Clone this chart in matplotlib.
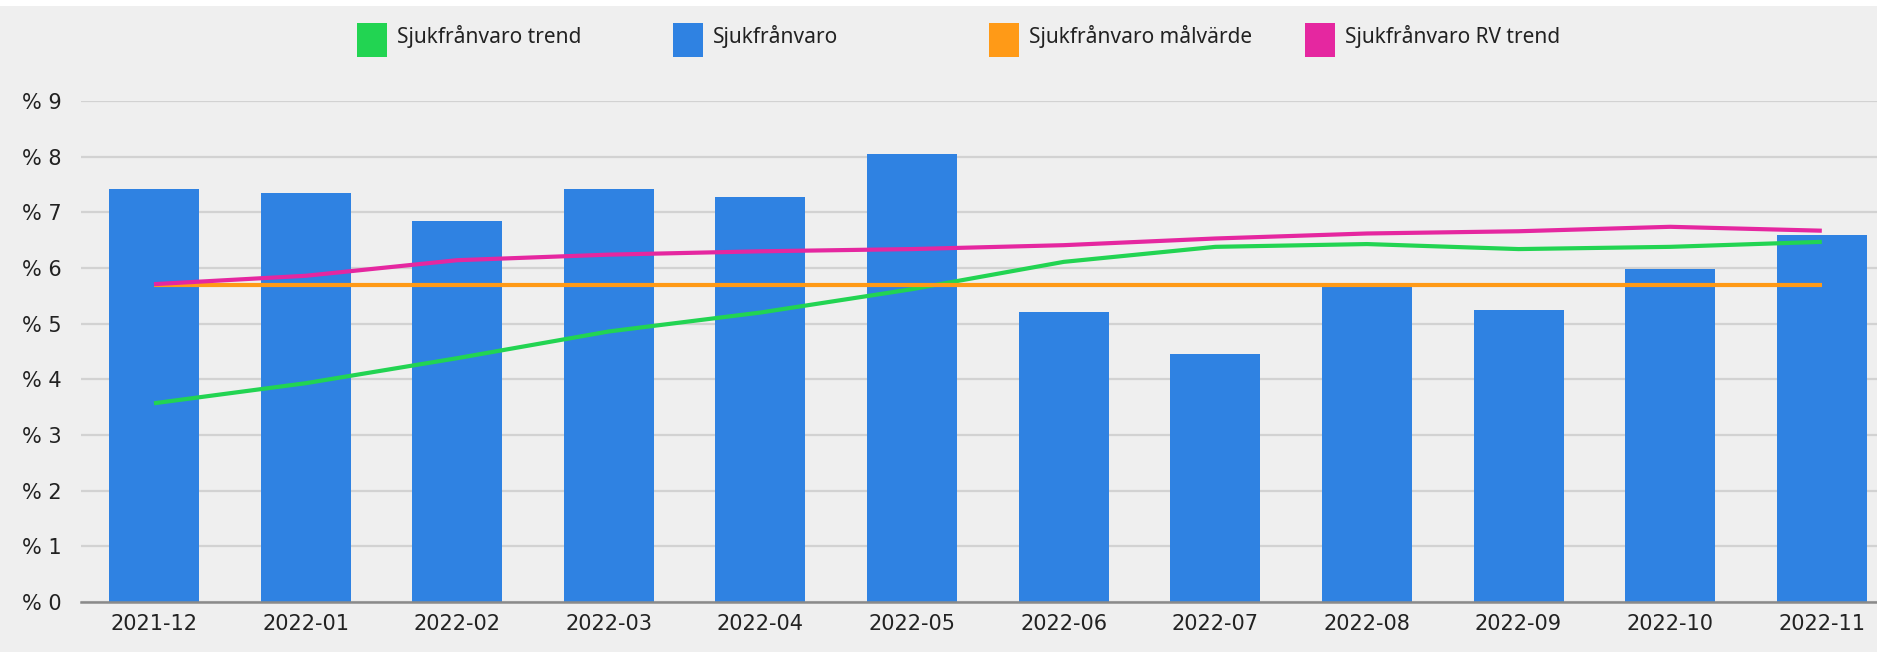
import matplotlib; matplotlib.use("Agg")
import matplotlib.pyplot as plt
from matplotlib.patches import Rectangle

# monthly sick-leave figures (percent)
months = ["2021-12", "2022-01", "2022-02", "2022-03", "2022-04", "2022-05",
          "2022-06", "2022-07", "2022-08", "2022-09", "2022-10", "2022-11"]
sjuk = [7.42, 7.35, 6.84, 7.42, 7.28, 8.04, 5.21, 4.45, 5.66, 5.25, 5.98, 6.59]
sjuk_trend = [3.57, 3.93, 4.38, 4.86, 5.20, 5.62, 6.11, 6.38, 6.43, 6.34, 6.38, 6.47]
sjuk_mal = [5.7, 5.7, 5.7, 5.7, 5.7, 5.7, 5.7, 5.7, 5.7, 5.7, 5.7, 5.7]
sjuk_rv_trend = [5.71, 5.86, 6.14, 6.24, 6.30, 6.34, 6.41, 6.53, 6.62, 6.66, 6.74, 6.67]
yticks = list(range(10))

BG = "#efefef"
BLUE, GREEN, ORANGE, PINK = "#2f82e2", "#22d452", "#ff9a17", "#e527a0"
TXT = "#222222"

W, H = 1877, 652
fig = plt.figure(figsize=(W/100, H/100), dpi=100, facecolor=BG)
ax = fig.add_axes([81/W, 50/H, 1-81/W, 501/H])
ax.set_facecolor(BG)

x = list(range(len(months)))
ax.bar(x, sjuk, width=0.594, color=BLUE, zorder=2)
ax.plot(x, sjuk_trend, color=GREEN, lw=3, zorder=3, solid_capstyle="butt")
ax.plot(x, sjuk_mal, color=ORANGE, lw=3, zorder=3, solid_capstyle="butt")
ax.plot(x, sjuk_rv_trend, color=PINK, lw=3, zorder=4, solid_capstyle="butt")

ax.set_xlim(-0.481, 11.364)
ax.set_ylim(0, 9)
ax.set_yticks(yticks)
ax.set_yticklabels([f"% {v}" for v in yticks])
ax.set_xticks(x)
ax.set_xticklabels(months)
ax.tick_params(length=0, labelsize=15, colors=TXT)
ax.tick_params(axis="y", pad=14)
ax.tick_params(axis="x", pad=9)
ax.grid(axis="y", color="#d2d2d2", lw=1.6, zorder=0)
ax.set_axisbelow(True)
for s in ["top", "right", "left"]:
    ax.spines[s].set_visible(False)
ax.spines["bottom"].set_color("#8a8a8a")
ax.spines["bottom"].set_linewidth(1.8)
ax.spines["bottom"].set_zorder(5)

# white strip along the top edge
fig.add_artist(Rectangle((0, 1-6/H), 1, 6/H, transform=fig.transFigure,
                         color="white", lw=0))

# legend: fixed-width columns, square swatches
labels = ["Sjukfrånvaro trend", "Sjukfrånvaro", "Sjukfrånvaro målvärde", "Sjukfrånvaro RV trend"]
colors = [GREEN, BLUE, ORANGE, PINK]
for k, (lab, c) in enumerate(zip(labels, colors)):
    x0 = 357 + 316*k
    fig.add_artist(Rectangle((x0/W, 1-57/H), 30/W, 34/H, transform=fig.transFigure,
                             color=c, lw=0))
    fig.text((x0+40)/W, 1-37/H, lab, ha="left", va="center", fontsize=15,
             color=TXT, family="Noto Sans")

fig.savefig("out.png", dpi=100, facecolor=BG)
